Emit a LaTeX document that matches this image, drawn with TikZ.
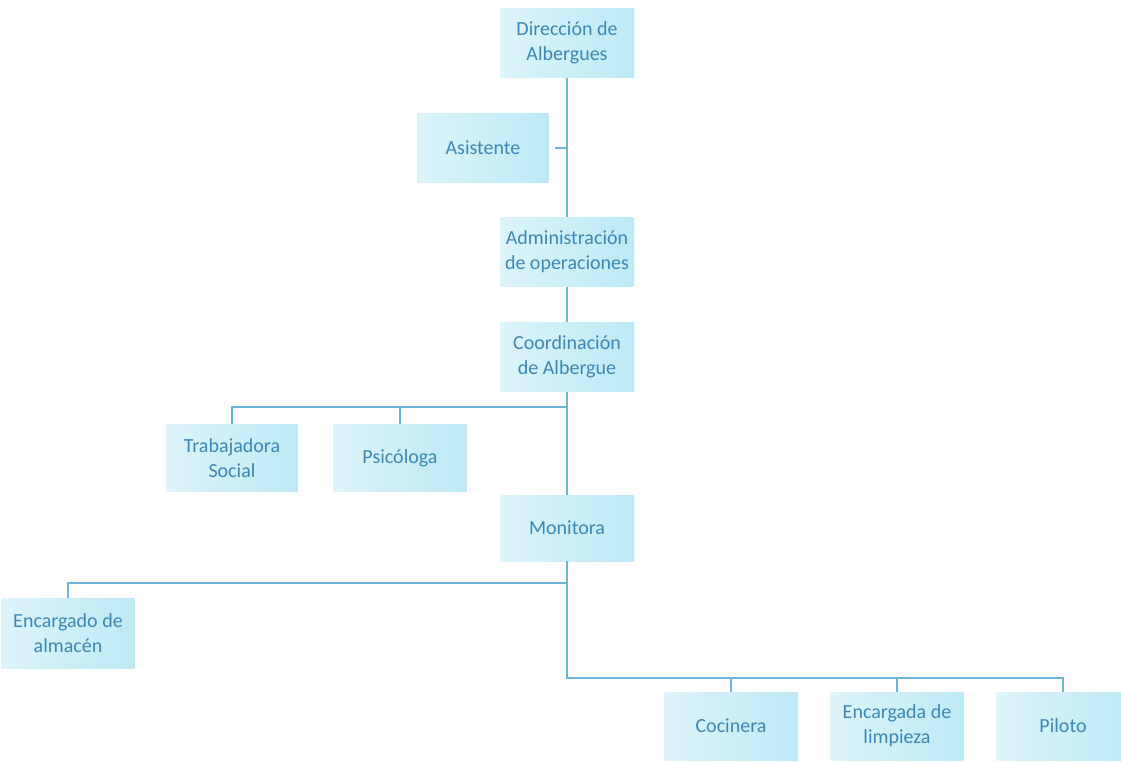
\documentclass[tikz,border=0pt]{standalone}
\usepackage{fontspec}
\setmainfont{Carlito}
\definecolor{txtblue}{HTML}{3C87B5}
\definecolor{lineblue}{HTML}{6BB6D6}
\definecolor{boxL}{HTML}{DDF4FA}
\definecolor{boxR}{HTML}{BDE9F5}
\tikzset{
  orgbox/.style={left color=boxL, right color=boxR, draw=none, inner sep=0pt,
    minimum width=134pt, minimum height=69pt, align=center, text=txtblue,
    font=\fontsize{20}{25}\selectfont},
  conn/.style={draw=lineblue, line width=1.3pt}
}
\begin{document}
\begin{tikzpicture}[x=1pt,y=-1pt]
\useasboundingbox (0,0) rectangle (1121,762);
\begin{scope}
\clip (0,0) rectangle (1121,762);
\node[orgbox] (dir) at (567,43) {Dirección de\\Albergues};
\node[orgbox, minimum width=132pt] (asis) at (483,148) {Asistente};
\node[orgbox] (adm) at (567,252) {Administración\\de operaciones};
\node[orgbox] (coord) at (567,357) {Coordinación\\de Albergue};
\node[orgbox, minimum width=131pt, minimum height=67pt] (trab) at (232,458) {Trabajadora\\Social};
\node[orgbox, minimum width=133pt, minimum height=67pt] (psi) at (400,458) {Psicóloga};
\node[orgbox, minimum height=66pt] (mon) at (567,528) {Monitora};
\node[orgbox, minimum width=133pt, minimum height=70pt] (alm) at (68,633) {Encargado de\\almacén};
\node[orgbox, minimum width=133pt, minimum height=68pt] (coc) at (731,726) {Cocinera};
\node[orgbox, minimum width=133pt, minimum height=68pt] (lim) at (897,726) {Encargada de\\limpieza};
\node[orgbox, minimum width=133pt, minimum height=68pt] (pil) at (1063,726) {Piloto};
\end{scope}
\coordinate (h1) at (567,407);
\coordinate (h2) at (567,583);
\coordinate (h3) at (567,678);
\draw[conn] (dir.south) -- (adm.north);
\draw[conn] ([xshift=6pt]asis.east) -- (asis.east -| dir.south);
\draw[conn] (adm.south) -- (coord.north);
\draw[conn] (coord.south) -- (mon.north);
\draw[conn] (trab.north) |- (h1);
\draw[conn] (psi.north) -- (psi.north |- h1);
\draw[conn] (mon.south) -- (h3) -| (pil.north);
\draw[conn] (alm.north) |- (h2);
\draw[conn] (coc.north) -- (coc.north |- h3);
\draw[conn] (lim.north) -- (lim.north |- h3);
\end{tikzpicture}
\end{document}
